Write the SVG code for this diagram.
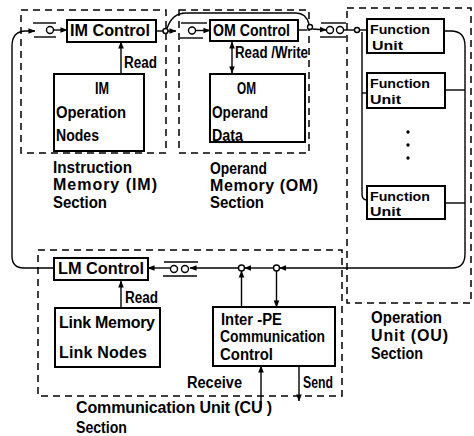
<svg xmlns="http://www.w3.org/2000/svg" width="474" height="436" viewBox="0 0 474 436">
<defs>
<style>
.box{fill:#fff;stroke:#000;stroke-width:2}
.sec{fill:none;stroke:#000;stroke-width:1.5;stroke-dasharray:7 5}
.ln{fill:none;stroke:#000;stroke-width:1.4}
.cir{fill:#fff;stroke:#000;stroke-width:1.4}
text{font-family:"Liberation Sans",Arial,sans-serif;font-size:16px;font-weight:bold;fill:#000}
.fu{font-size:13.5px}
</style>
<marker id="ah" viewBox="0 0 8 8" refX="7.5" refY="4" markerWidth="7" markerHeight="7" markerUnits="userSpaceOnUse" orient="auto-start-reverse">
<path d="M0,0.8 L8,4 L0,7.2 Z" fill="#000"/>
</marker>
</defs>
<rect width="474" height="436" fill="#fff"/>

<g id="im-section">
<rect class="sec" x="21" y="10" width="145" height="143"/>
<text x="53" y="173" textLength="79" lengthAdjust="spacingAndGlyphs">Instruction</text>
<text x="53" y="190" textLength="104" lengthAdjust="spacing">Memory  (IM)</text>
<text x="53" y="208" textLength="54" lengthAdjust="spacingAndGlyphs">Section</text>
</g>
<g id="im-control">
<rect class="box" x="67" y="20" width="89" height="22"/>
<text x="70" y="36" textLength="80" lengthAdjust="spacingAndGlyphs">IM Control</text>
</g>
<g id="im-nodes">
<rect class="box" x="54" y="74" width="90" height="77"/>
<text x="95" y="94" textLength="14" lengthAdjust="spacingAndGlyphs">IM</text>
<text x="56" y="118" textLength="70" lengthAdjust="spacingAndGlyphs">Operation</text>
<text x="56" y="141" textLength="43" lengthAdjust="spacingAndGlyphs">Nodes</text>
</g>

<g id="om-section">
<rect class="sec" x="179" y="10" width="130" height="143"/>
<text x="210" y="174" textLength="57" lengthAdjust="spacingAndGlyphs">Operand</text>
<text x="210" y="191" textLength="108" lengthAdjust="spacing">Memory (OM)</text>
<text x="210" y="208" textLength="54" lengthAdjust="spacingAndGlyphs">Section</text>
</g>
<g id="om-control">
<rect class="box" x="210" y="20" width="88" height="21"/>
<text x="213" y="36" textLength="77" lengthAdjust="spacingAndGlyphs">OM Control</text>
</g>
<g id="om-data">
<rect class="box" x="210" y="74" width="95" height="68"/>
<text x="237" y="94" textLength="19" lengthAdjust="spacingAndGlyphs">OM</text>
<text x="212" y="118" textLength="56" lengthAdjust="spacingAndGlyphs">Operand</text>
<text x="212" y="141" textLength="31" lengthAdjust="spacingAndGlyphs">Data</text>
</g>

<g id="ou-section">
<rect class="sec" x="347" y="8" width="124" height="295"/>
<text x="371" y="323" textLength="71" lengthAdjust="spacingAndGlyphs">Operation</text>
<text x="371" y="341" textLength="77" lengthAdjust="spacing">Unit (OU)</text>
<text x="371" y="359" textLength="52" lengthAdjust="spacingAndGlyphs">Section</text>
</g>
<g id="fu1">
<rect class="box" x="367" y="19" width="77" height="34"/>
<text class="fu" x="370" y="34" textLength="60" lengthAdjust="spacingAndGlyphs">Function</text>
<text class="fu" x="372" y="50" textLength="31" lengthAdjust="spacingAndGlyphs">Unit</text>
</g>
<g id="fu2">
<rect class="box" x="367" y="73" width="78" height="35"/>
<text class="fu" x="370" y="88" textLength="60" lengthAdjust="spacingAndGlyphs">Function</text>
<text class="fu" x="370" y="104" textLength="31" lengthAdjust="spacingAndGlyphs">Unit</text>
</g>
<g id="fu-dots">
<circle cx="408" cy="132" r="1.7" fill="#000"/>
<circle cx="408" cy="145" r="1.7" fill="#000"/>
<circle cx="408" cy="158" r="1.7" fill="#000"/>
</g>
<g id="fu3">
<rect class="box" x="367" y="186" width="78" height="33"/>
<text class="fu" x="370" y="201" textLength="60" lengthAdjust="spacingAndGlyphs">Function</text>
<text class="fu" x="370" y="216" textLength="31" lengthAdjust="spacingAndGlyphs">Unit</text>
</g>

<g id="cu-section">
<rect class="sec" x="38" y="250" width="304" height="146"/>
<text x="76" y="413" textLength="196" lengthAdjust="spacing">Communication Unit (CU )</text>
<text x="76" y="433" textLength="51" lengthAdjust="spacingAndGlyphs">Section</text>
<text x="187" y="388" textLength="55" lengthAdjust="spacingAndGlyphs">Receive</text>
<text x="303" y="388" textLength="30" lengthAdjust="spacingAndGlyphs">Send</text>
</g>
<g id="lm-control">
<rect class="box" x="54" y="258" width="94" height="22"/>
<text x="58" y="274" textLength="86" lengthAdjust="spacingAndGlyphs">LM Control</text>
</g>
<g id="link-memory">
<rect class="box" x="55" y="308" width="105" height="59"/>
<text x="59" y="328" textLength="96" lengthAdjust="spacing">Link Memory</text>
<text x="59" y="358" textLength="88" lengthAdjust="spacing">Link Nodes</text>
</g>
<g id="inter-pe">
<rect class="box" x="213" y="307" width="122" height="59"/>
<text x="221" y="325" textLength="61" lengthAdjust="spacingAndGlyphs">Inter -PE</text>
<text x="220" y="342" textLength="105" lengthAdjust="spacingAndGlyphs">Communication</text>
<text x="220" y="360" textLength="53" lengthAdjust="spacingAndGlyphs">Control</text>
</g>

<g id="connectors">
<line class="ln" x1="121" y1="74" x2="121" y2="42" marker-end="url(#ah)"/>
<text x="124" y="68" textLength="33" lengthAdjust="spacingAndGlyphs">Read</text>
<line class="ln" x1="232" y1="73" x2="232" y2="42" marker-start="url(#ah)" marker-end="url(#ah)"/>
<text x="235" y="58" textLength="73" lengthAdjust="spacingAndGlyphs">Read /Write</text>
<line class="ln" x1="121" y1="308" x2="121" y2="281" marker-end="url(#ah)"/>
<text x="125" y="303" textLength="33" lengthAdjust="spacingAndGlyphs">Read</text>

<path class="ln" d="M54,268 H24 Q12,268 12,256 V46 Q12,31 26,31 H35" marker-end="url(#ah)"/>
<line class="ln" x1="33" y1="23" x2="56" y2="23"/>
<line class="ln" x1="34" y1="37" x2="56" y2="37"/>
<circle class="cir" cx="50" cy="30" r="3.5"/>
<line class="ln" x1="54" y1="30" x2="67" y2="30" marker-end="url(#ah)"/>

<line class="ln" x1="156" y1="31" x2="163" y2="31"/>
<circle class="cir" cx="165.5" cy="31" r="2.5"/>
<path class="ln" d="M167,28.5 Q172,13 186,13 H296 Q306,13 309,24"/>
<line class="ln" x1="168" y1="31" x2="176" y2="31" marker-end="url(#ah)"/>
<line class="ln" x1="181" y1="23" x2="207" y2="23"/>
<line class="ln" x1="180" y1="38" x2="203" y2="38"/>
<circle class="cir" cx="192" cy="30.5" r="3.5"/>
<line class="ln" x1="195.5" y1="30.5" x2="210" y2="30.5" marker-end="url(#ah)"/>

<line class="ln" x1="298" y1="30" x2="307.5" y2="30"/>
<circle class="cir" cx="310" cy="27" r="2.5"/>
<line class="ln" x1="312.5" y1="29" x2="326.5" y2="30" marker-end="url(#ah)"/>
<line class="ln" x1="321" y1="23" x2="346" y2="23"/>
<line class="ln" x1="320" y1="37" x2="346" y2="37"/>
<circle class="cir" cx="330" cy="30" r="3.5"/>
<circle class="cir" cx="340" cy="30" r="3.5"/>
<line class="ln" x1="343.5" y1="30" x2="354.5" y2="30"/>
<circle class="cir" cx="357" cy="30" r="2.5"/>
<line class="ln" x1="359.5" y1="30" x2="367" y2="30"/>
<path class="ln" d="M362,32 V194 Q362,200 367,200"/>
<line class="ln" x1="362" y1="93" x2="367" y2="93"/>

<path class="ln" d="M444,31 H451 Q465,31 465,46 V254 Q465,268 452,268 H279.5" marker-end="url(#ah)"/>
<line class="ln" x1="445" y1="90" x2="465" y2="90"/>
<line class="ln" x1="445" y1="203" x2="465" y2="203"/>
<circle class="cir" cx="276.5" cy="268" r="3"/>
<line class="ln" x1="273.5" y1="268" x2="244.5" y2="268" marker-end="url(#ah)"/>
<circle class="cir" cx="241.5" cy="268" r="3"/>
<line class="ln" x1="238.5" y1="268" x2="190" y2="268" marker-end="url(#ah)"/>
<line class="ln" x1="164" y1="262" x2="198" y2="262"/>
<line class="ln" x1="163" y1="276" x2="197" y2="276"/>
<circle class="cir" cx="174" cy="269" r="3.5"/>
<circle class="cir" cx="185" cy="269" r="3.5"/>
<line class="ln" x1="170.5" y1="268" x2="148" y2="268" marker-end="url(#ah)"/>

<line class="ln" x1="241.5" y1="307" x2="241.5" y2="271" marker-end="url(#ah)"/>
<line class="ln" x1="276.5" y1="271" x2="276.5" y2="307" marker-end="url(#ah)"/>
<line class="ln" x1="261" y1="408" x2="261" y2="366" marker-end="url(#ah)"/>
<line class="ln" x1="299" y1="366" x2="299" y2="401" marker-end="url(#ah)"/>
</g>
</svg>
